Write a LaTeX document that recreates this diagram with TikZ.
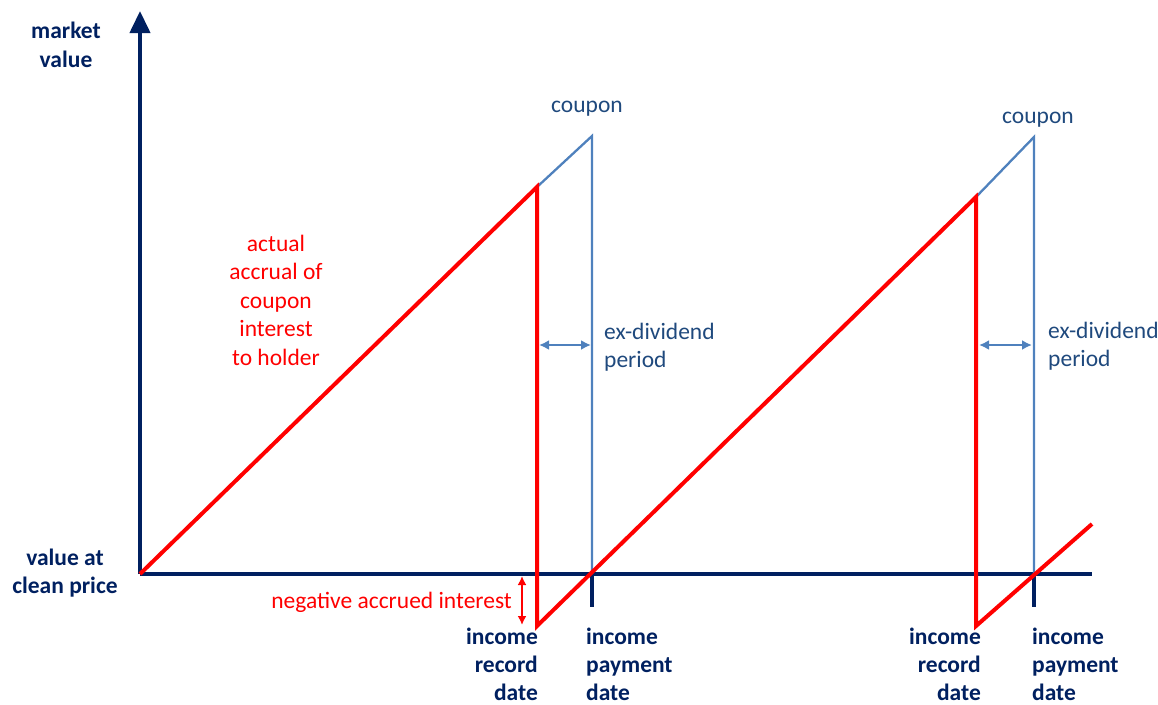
\documentclass[tikz,border=0pt]{standalone}
\usepackage{fontspec}
\setmainfont{Carlito}
\usetikzlibrary{arrows.meta}
\definecolor{navy}{RGB}{0,32,96}
\definecolor{lineblue}{RGB}{79,129,189}
\definecolor{textblue}{RGB}{31,73,125}
\definecolor{pured}{RGB}{255,0,0}
\begin{document}
\begin{tikzpicture}[x=1pt,y=-1pt,
  lbl/.style={inner sep=0pt,font=\fontsize{23.5}{28.5}\selectfont},
  blbl/.style={lbl,font=\fontsize{23.5}{28.5}\selectfont\bfseries,text=navy},
  datelbl/.style={lbl,font=\fontsize{23.5}{28}\selectfont\bfseries,text=navy},
  axisline/.style={draw=navy,line width=4pt},
  redline/.style={draw=pured,line width=4pt,line join=miter},
  blueline/.style={draw=lineblue,line width=2.3pt},
  bluearrow/.style={draw=lineblue,line width=2.3pt,{Latex[length=10pt,width=10pt]}-{Latex[length=10pt,width=10pt]}},
  redarrow/.style={draw=pured,line width=2pt,{Latex[length=9pt,width=9pt]}-{Latex[length=9pt,width=9pt]}}]
\useasboundingbox (0,0) rectangle (1158,704);
% coordinates
\coordinate (O) at (140,574);
\coordinate (Top) at (140,11);
\coordinate (Xend) at (1092,574);
\coordinate (P1) at (537,187);
\coordinate (C1) at (592,136);
\coordinate (B1) at (537,626);
\coordinate (T1) at (592,574);
\coordinate (K1) at (592,607);
\coordinate (P2) at (976,197);
\coordinate (C2) at (1034,137);
\coordinate (B2) at (976,626);
\coordinate (T2) at (1034,574);
\coordinate (K2) at (1034,607);
\coordinate (E) at (1092,524);
\coordinate (Xa1) at (539,345);
\coordinate (Xb1) at (591,345);
\coordinate (Xa2) at (979,345);
\coordinate (Xb2) at (1032,345);
\coordinate (Na) at (522,576);
\coordinate (Nb) at (522,625);
% axes
\draw[axisline,-{Triangle[length=22pt,width=20pt]}] (O) -- (Top);
\draw[axisline] (O) -- (Xend);
\draw[axisline,line width=3.5pt] (T1) -- (K1);
\draw[axisline,line width=3.5pt] (T2) -- (K2);
% blue
\draw[blueline] (P1) -- (C1) -- (T1);
\draw[blueline] (P2) -- (C2) -- (T2);
\draw[bluearrow] (Xa1) -- (Xb1);
\draw[bluearrow] (Xa2) -- (Xb2);
% red
\draw[redline] (O) -- (P1) -- (B1) -- (P2) -- (B2) -- (E);
\draw[redarrow] (Na) -- (Nb);
% labels
\node[blbl,align=center] (mv) at (66,45) {market\\value};
\node[blbl,align=center] (vc) at (65,573) {value at\\clean price};
\node[lbl,text=textblue] (cp1) at (587,109) {coupon};
\node[lbl,text=textblue] (cp2) at (1038,120) {coupon};
\node[lbl,text=pured,align=center] (acc) at (276,300) {actual\\accrual of\\coupon\\interest\\to holder};
\node[lbl,text=textblue,align=left,anchor=west] (ex1) at (604,347) {ex-dividend\\period};
\node[lbl,text=textblue,align=left,anchor=west] (ex2) at (1048,346) {ex-dividend\\period};
\node[lbl,text=pured,anchor=east] (neg) at (512,602) {negative accrued interest};
\node[datelbl,align=right,anchor=east] (rd1) at (538,664) {income\\record\\date};
\node[datelbl,align=left,anchor=west] (pd1) at (586,664) {income\\payment\\date};
\node[datelbl,align=right,anchor=east] (rd2) at (981,664) {income\\record\\date};
\node[datelbl,align=left,anchor=west] (pd2) at (1032,664) {income\\payment\\date};
\end{tikzpicture}
\end{document}
